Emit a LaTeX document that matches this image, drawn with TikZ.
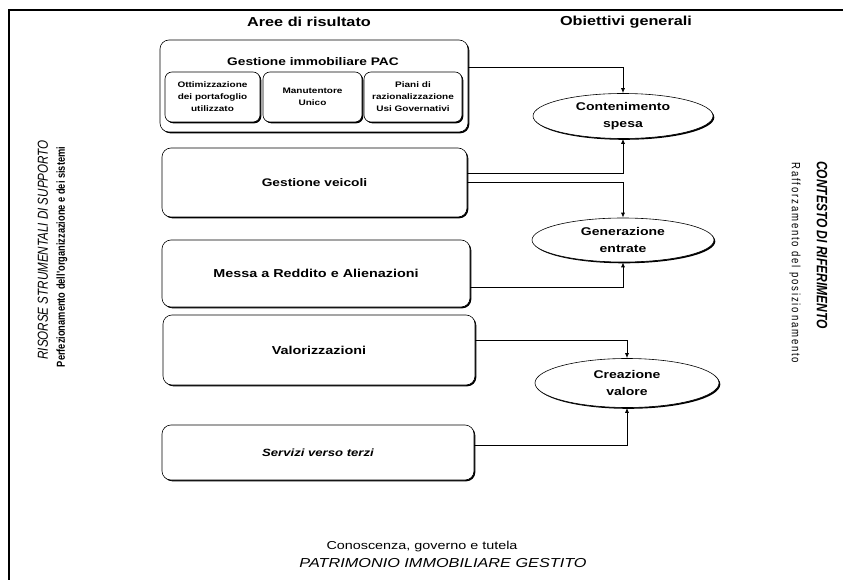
\documentclass[tikz,border=0pt]{standalone}
\usepackage{fontspec}
\setmainfont{Liberation Sans}
\newfontfamily\widefont[FakeStretch=1.25]{Liberation Sans}
\newfontfamily\narrowfont[FakeStretch=0.8]{Liberation Sans}
\usetikzlibrary{positioning,shapes.geometric,shadows,arrows.meta}

\tikzset{
  shade/.style={drop shadow={shadow xshift=1.3pt, shadow yshift=-1.3pt, opacity=1, fill=black}},
  area/.style={draw, rounded corners=9pt, fill=white, line width=0.6pt, shade,
    font=\widefont\bfseries\fontsize{11.5}{14}\selectfont},
  sub/.style={area, rounded corners=7pt, align=center, inner sep=1pt,
    font=\widefont\bfseries\fontsize{8}{12}\selectfont},
  goal/.style={draw, ellipse, fill=white, line width=0.6pt, shade, align=center, inner sep=0pt,
    font=\widefont\bfseries\fontsize{11.2}{17}\selectfont},
  head/.style={font=\widefont\bfseries\fontsize{13}{15}\selectfont},
  link/.style={line width=0.8pt, -{Latex[length=5pt,width=4pt]}}
}

\begin{document}
\begin{tikzpicture}[x=1pt,y=-1pt]
  \useasboundingbox (0,0) rectangle (843,580);
  \draw[line width=1.3pt] (843,10) -- (9,10) -- (9,580);

  \node[head] (aree) at (309,22) {Aree di risultato};
  \node[head] (obiettivi) at (626,22) {Obiettivi generali};

  \node[area, minimum width=308, minimum height=92] (pac) at (314,86) {};
  \node[font=\widefont\bfseries\fontsize{11}{13}\selectfont] (pactitle) at (313,62) {Gestione immobiliare PAC};
  \node[sub, minimum width=95, minimum height=50] (ott) at (212.5,97) {Ottimizzazione\\dei portafoglio\\utilizzato};
  \node[sub, minimum width=99, minimum height=50] (man) at (312.5,97) {Manutentore\\Unico};
  \node[sub, minimum width=98, minimum height=50] (piani) at (413,97) {Piani di\\razionalizzazione\\Usi Governativi};

  \node[area, minimum width=305, minimum height=69, font=\widefont\bfseries\fontsize{11}{14}\selectfont] (veicoli) at (314.5,182.5) {Gestione veicoli};
  \node[area, minimum width=308, minimum height=67] (reddito) at (316,273.5) {Messa a Reddito e Alienazioni};
  \node[area, minimum width=312, minimum height=70] (valorizz) at (319,350) {Valorizzazioni};
  \node[area, minimum width=312, minimum height=55, font=\widefont\bfseries\itshape\fontsize{10.5}{14}\selectfont] (servizi) at (318,452.5) {Servizi verso terzi};

  \node[goal, minimum width=180, minimum height=45] (spesa) at (623,116) {Contenimento\\spesa};
  \node[goal, minimum width=182, minimum height=44] (entrate) at (623,240) {Generazione\\entrate};
  \node[goal, minimum width=184, minimum height=49] (valore) at (627,383) {Creazione\\valore};

  \draw[link] ([yshift=19pt]pac.east) -| (spesa.north);
  \draw[link] ([yshift=9.5pt]veicoli.east) -| (spesa.south);
  \draw[link] (veicoli.east) -| (entrate.north);
  \draw[link] ([yshift=-13.5pt]reddito.east) -| (entrate.south);
  \draw[link] ([yshift=10pt]valorizz.east) -| (valore.north);
  \draw[link] ([yshift=7.5pt]servizi.east) -| (valore.south);

  \node[rotate=90, font=\narrowfont\itshape\fontsize{14.5}{16}\selectfont] (risorse) at (43,250) {RISORSE STRUMENTALI DI SUPPORTO};
  \node[rotate=90, font=\narrowfont\bfseries\fontsize{11.6}{13}\selectfont] (perfez) at (62,257) {Perfezionamento dell'organizzazione e dei sistemi};
  \node[rotate=-90, font=\narrowfont\bfseries\itshape\fontsize{15}{17}\selectfont] (contesto) at (822,245) {CONTESTO DI RIFERIMENTO};
  \node[rotate=-90, font=\narrowfont\addfontfeature{LetterSpace=15}\fontsize{12}{14}\selectfont] (raff) at (795,263) {Rafforzamento del posizionamento};

  \node[font=\widefont\fontsize{11.5}{13}\selectfont] (conosc) at (422,547) {Conoscenza, governo e tutela};
  \node[font=\widefont\itshape\fontsize{13}{15}\selectfont] (patrim) at (443,563) {PATRIMONIO IMMOBILIARE GESTITO};
\end{tikzpicture}
\end{document}
